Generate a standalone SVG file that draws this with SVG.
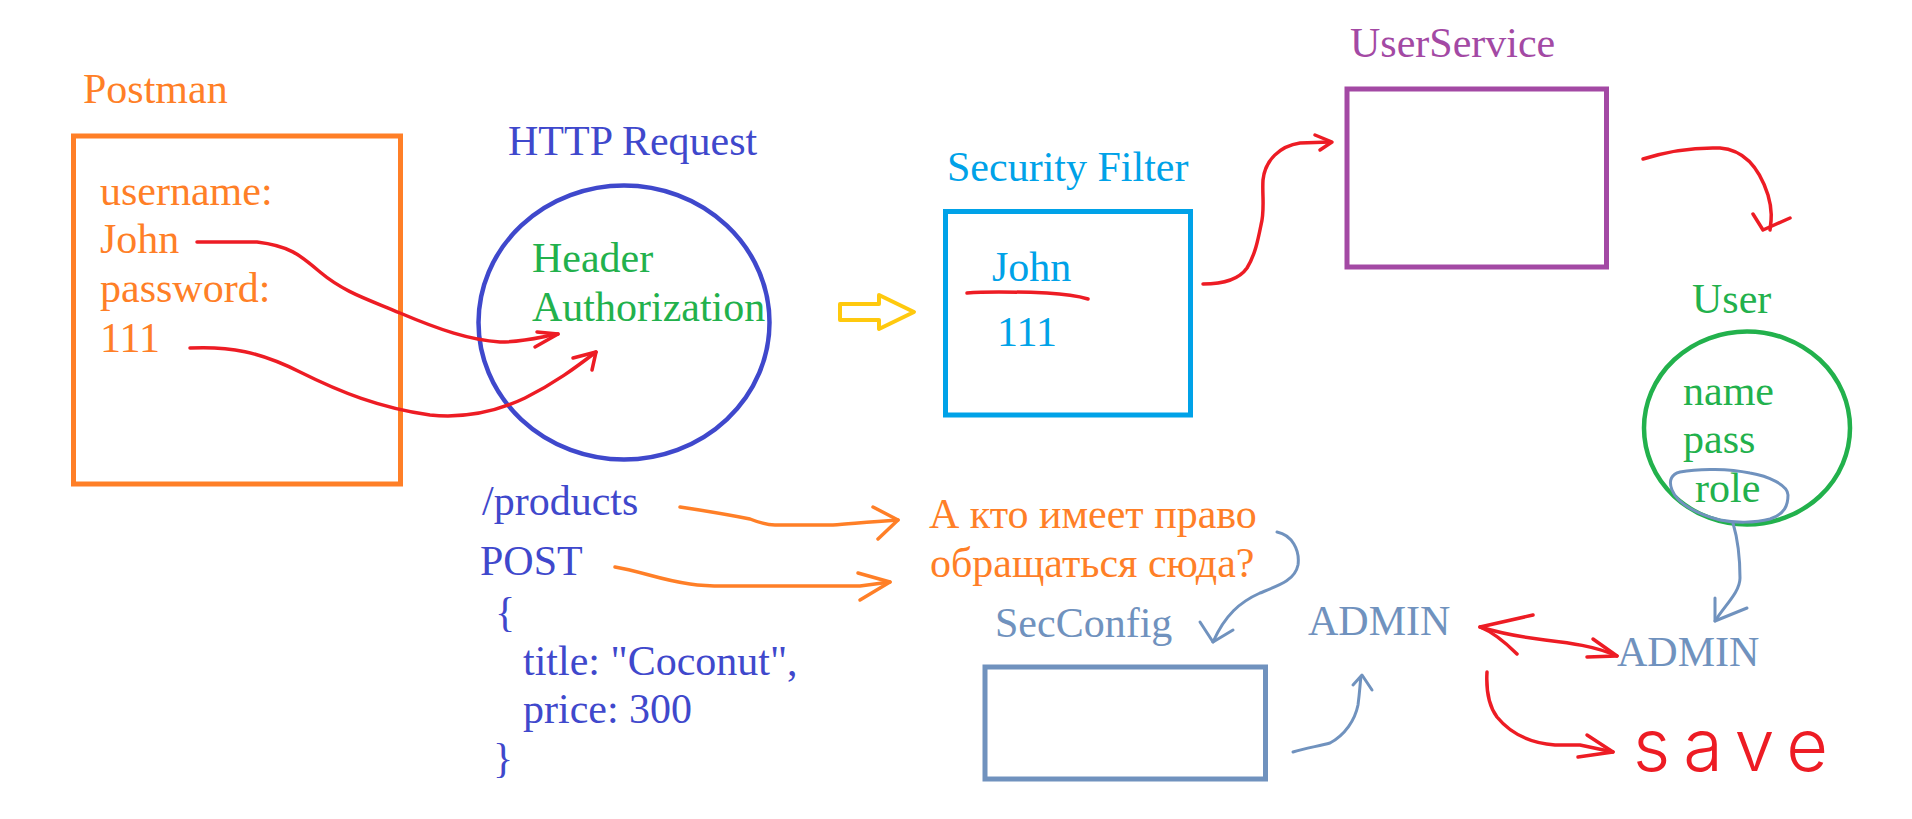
<svg xmlns="http://www.w3.org/2000/svg" width="1912" height="819" viewBox="0 0 1912 819">
<style>
.t{font-family:"Liberation Serif","Noto Sans CJK SC",serif;font-size:42px}
.or{fill:#FF7F27}.bl{fill:#3F48CC}.gr{fill:#22B14C}.cy{fill:#00A2E8}.pu{fill:#A349A4}.gb{fill:#7092BE}
.c{fill:none;stroke-linecap:round;stroke-linejoin:round}
.r{stroke:#ED1C24;stroke-width:3.5}
.o{stroke:#FF7F27;stroke-width:3.5}
.g{stroke:#7092BE;stroke-width:3}
.box{fill:none;stroke-width:5}
</style>
<rect width="1912" height="819" fill="#FFFFFF"/>
<g id="postman">
<text class="t or" x="83" y="103">Postman</text>
<rect class="box" x="73.5" y="136" width="327" height="348" stroke="#FF7F27"/>
<text class="t or" x="100" y="205">username:</text>
<text class="t or" x="100" y="253">John</text>
<text class="t or" x="100" y="302">password:</text>
<text class="t or" x="100" y="352">111</text>
</g>
<g id="http-request">
<text class="t bl" x="508" y="155">HTTP Request</text>
<ellipse cx="624" cy="322.5" rx="145.5" ry="137" fill="none" stroke="#3F48CC" stroke-width="4.5"/>
<text class="t gr" x="532" y="272">Header</text>
<text class="t gr" x="532" y="321">Authorization</text>
</g>
<g id="request-body">
<text class="t bl" x="482" y="515">/products</text>
<text class="t bl" x="480" y="575">POST</text>
<text class="t bl" x="495" y="626">{</text>
<text class="t bl" x="523" y="675">title: "Coconut",</text>
<text class="t bl" x="523" y="723">price: 300</text>
<text class="t bl" x="493" y="772">}</text>
</g>
<g id="security-filter">
<text class="t cy" x="947" y="181">Security Filter</text>
<rect class="box" x="945.5" y="211.5" width="245" height="203.5" stroke="#00A2E8"/>
<text class="t cy" x="992" y="281">John</text>
<text class="t cy" x="997" y="346">111</text>
</g>
<g id="user-service">
<text class="t pu" x="1350" y="57">UserService</text>
<rect class="box" x="1347" y="89" width="259.5" height="178" stroke="#A349A4"/>
</g>
<g id="user">
<text class="t gr" x="1692" y="313">User</text>
<ellipse cx="1747" cy="428" rx="103" ry="96.5" fill="none" stroke="#22B14C" stroke-width="4.5"/>
<text class="t gr" x="1683" y="405">name</text>
<text class="t gr" x="1683" y="453">pass</text>
<text class="t gr" x="1695" y="502">role</text>
</g>
<g id="question">
<text class="t or" x="929" y="528">А кто имеет право</text>
<text class="t or" x="930" y="577">обращаться сюда?</text>
</g>
<g id="sec-config">
<text class="t gb" x="995" y="637">SecConfig</text>
<rect class="box" x="985" y="667" width="280.5" height="112" stroke="#7092BE"/>
</g>
<g id="admin-left">
<text class="t gb" x="1308" y="635">ADMIN</text>
</g>
<g id="admin-right">
<text class="t gb" x="1617" y="666">ADMIN</text>
</g>
<g id="save">
<text x="1633" y="771" fill="#ED1C24" font-family="Inter, 'Liberation Sans', sans-serif" font-weight="300" font-size="72" letter-spacing="13">save</text>
</g>
<g id="connectors">
<path class="c r" d="M197,242 L257,242 C290,246 300,255 320,272 C345,293 370,300 400,313 C440,330 470,340 500,342 C525,342 540,337 558,334"/>
<path class="c r" d="M537,332 L558,334 L535,347"/>
<path class="c r" d="M190,348 C230,346 260,352 300,372 C340,392 380,408 430,415 C470,419 500,410 525,398 C555,383 575,368 596,352"/>
<path class="c r" d="M573,358 L596,352 L592,370"/>
<polygon class="c" points="840,304 879,304 879,295 914,312 879,329 879,320 840,320" stroke="#FFC90E" stroke-width="4"/>
<path class="c r" d="M967,293 C990,291 1020,292 1047,293 C1065,294 1078,296 1088,299"/>
<path class="c r" d="M1203,284 C1225,284 1240,278 1247,268 C1255,255 1258,240 1261,225 C1265,210 1262,195 1263,180 C1265,160 1280,146 1300,143 L1330,142"/>
<path class="c r" d="M1315,135 L1332,142 L1320,150"/>
<path class="c r" d="M1643,159 C1665,152 1690,147 1720,148 C1745,150 1760,170 1768,195 C1773,212 1771,222 1770,230"/>
<path class="c r" d="M1753,214 L1763,230 L1790,218" stroke-width="5"/>
<path class="c g" d="M1680,472 C1700,468 1730,469 1750,473 C1768,476 1788,485 1788,495 C1788,505 1785,514 1770,519 C1755,523 1735,523 1720,520 C1700,515 1678,505 1672,490 C1668,480 1672,474 1680,472 Z"/>
<path class="c g" d="M1733,523 C1738,540 1740,560 1740,578 C1740,592 1725,605 1715,621"/>
<path class="c g" d="M1715,598 L1715,621 L1747,608"/>
<path class="c o" d="M680,507 C700,510 730,515 750,519 C760,523 767,525 775,525 L833,525 C850,524 865,522 898,520"/>
<path class="c o" d="M873,507 L898,520 L878,539"/>
<path class="c o" d="M615,567 C640,571 660,580 690,584 C710,587 720,586 740,586 L860,586 L890,582"/>
<path class="c o" d="M858,573 L890,582 L860,600"/>
<path class="c g" d="M1277,532 C1292,535 1300,550 1298,565 C1295,580 1280,585 1260,593 C1240,602 1225,615 1213,642"/>
<path class="c g" d="M1200,622 L1213,642 L1233,630"/>
<path class="c g" d="M1293,752 C1305,748 1320,746 1330,743 C1345,735 1355,720 1358,705 C1360,690 1360,683 1361,677"/>
<path class="c g" d="M1353,685 L1362,675 L1372,690"/>
<path class="c r" d="M1480,627 C1500,633 1520,637 1545,640 C1570,643 1595,646 1617,656"/>
<path class="c r" d="M1533,615 L1480,627 C1495,633 1508,645 1517,654"/>
<path class="c r" d="M1593,639 L1617,656 L1587,657"/>
<path class="c r" d="M1487,672 C1486,690 1488,705 1497,717 C1510,733 1530,743 1555,745 L1580,745 L1613,752"/>
<path class="c r" d="M1587,735 L1613,752 L1578,757"/>
</g>
</svg>
